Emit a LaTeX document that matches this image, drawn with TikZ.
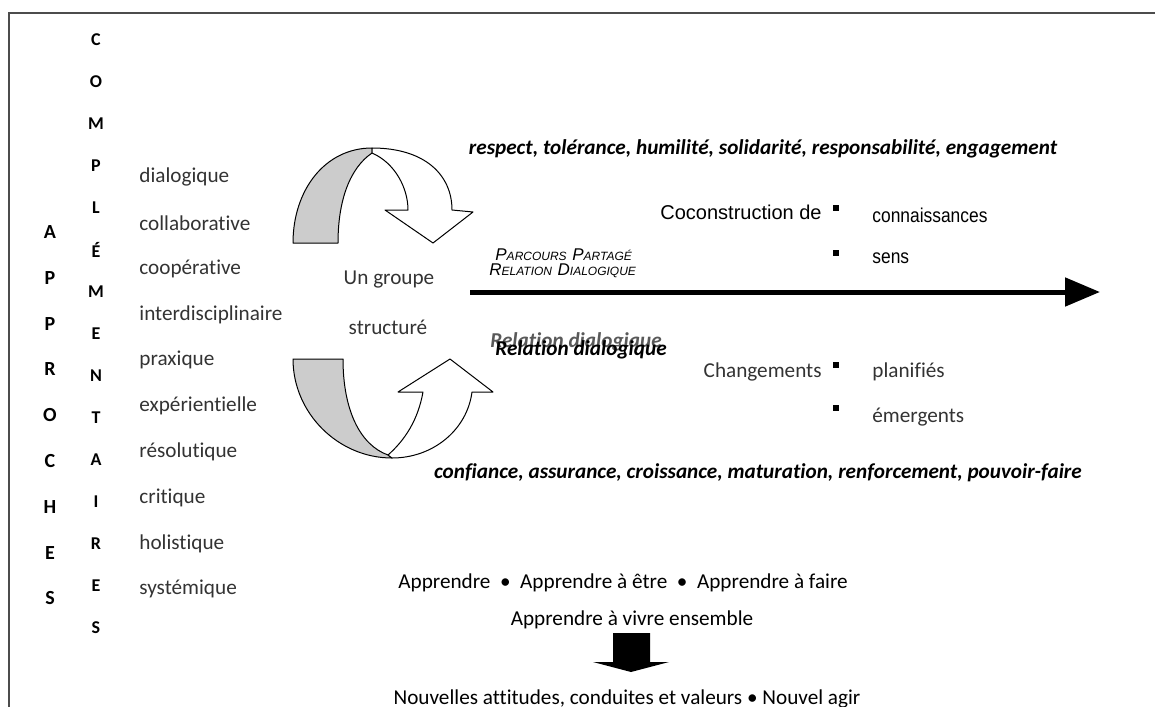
\documentclass[tikz,border=0pt]{standalone}
\usepackage{fontspec}
\setmainfont{Carlito}[RawFeature=-liga]
\newfontfamily\arialfont{Liberation Sans}
\newfontfamily\arialnarrow{Liberation Sans}[FakeStretch=0.87]
\usetikzlibrary{arrows.meta}
\newcommand{\petitecap}[2]{{\fontsize{8.5}{9}\selectfont #1}{\fontsize{6}{7}\selectfont #2}}

\tikzset{
  approche/.style={font=\fontsize{10}{11}\selectfont\bfseries},
  complement/.style={font=\fontsize{9}{10}\selectfont\bfseries},
  mot/.style={anchor=west, text=black!80},
  valeurs/.style={font=\fontsize{10.6}{12}\selectfont\bfseries\itshape},
  puce/.style={fill=black, minimum size=3pt, inner sep=0pt},
  ruban/.style={draw=black, line width=0.5pt, line join=round},
}

\begin{document}
\begin{tikzpicture}[x=0.5pt,y=-0.5pt,every node/.style={font=\fontsize{10.6}{12.7}\selectfont, inner sep=0pt}]
        \useasboundingbox (0,0) rectangle (1155,706);
        \clip (0,0) rectangle (1155,706);
        \draw[black!70,line width=1.3pt] (1160,13) -- (9,13) -- (9,710);
        % colonnes de gauche
        \foreach \l [count=\i from 0] in {A,P,P,R,O,C,H,E,S} {
                \node[approche] (ap\i) at (50,232+45.8*\i) {\l};
            }
        \foreach \l [count=\i from 0] in {C,O,M,P,L,É,M,E,N,T,A,I,R,E,S} {
                \node[complement] (co\i) at (96,40+42*\i) {\l};
            }
        \foreach \m [count=\i from 0] in {dialogique,collaborative,coopérative,interdisciplinaire,praxique,expérientielle,résolutique,critique,holistique,systémique} {
                \node[mot] (mot\i) at (139,177+45.8*\i) {\m};
            }
        % rubans
        \filldraw[ruban,fill=black!20] (293,243) .. controls (293,190) and (325,148) .. (372,148) -- (372,153)
            .. controls (350,168) and (338,200) .. (338,243) -- cycle;
        \filldraw[ruban,fill=white] (372,148) .. controls (425,148) and (452,175) .. (452,210) -- (473,212) -- (433,243)
            -- (385,210) -- (408,210) .. controls (408,188) and (395,163) .. (372,153) -- cycle;
        \filldraw[ruban,fill=black!20] (293,359) -- (343,359) .. controls (343,410) and (360,445) .. (388,455) -- (392,458)
            .. controls (338,458) and (293,413) .. (293,359) -- cycle;
        \filldraw[ruban,fill=white] (392,458) .. controls (433,458) and (467,430) .. (472,392) -- (493,392) -- (450,359)
            -- (398,392) -- (423,392) .. controls (418,420) and (405,440) .. (388,455) -- cycle;
        \node[text=black!80] (groupe) at (389,280) {Un groupe};
        \node[text=black!80] (structure) at (388,327) {structuré};
        % parcours
        \node[valeurs] (respect) at (763,149) {respect, tolérance, humilité, solidarité, responsabilité, engagement};
        \node[font=\arialfont\itshape,anchor=west] (parcours) at (495,255) {\petitecap{P}{ARCOURS} \petitecap{P}{ARTAGÉ}};
        \node[font=\arialfont\itshape,anchor=west] (relation) at (489,271) {\petitecap{R}{ELATION} \petitecap{D}{IALOGIQUE}};
        \coordinate (debut) at (470,292);
        \coordinate (fin) at (1100,292);
        \draw[line width=2.5pt,-{Triangle[length=17.5pt,width=14pt]}] (debut) -- (fin);
        \node[valeurs,text=black!65,anchor=west] (reldia1) at (490,342) {Relation dialogique};
        \node[valeurs,anchor=west] (reldia2) at (495,350) {Relation dialogique};
        \node[font=\arialfont,anchor=east] (cocons) at (822,212) {Coconstruction de};
        \node[puce] (p1) at (836,208) {};
        \node[puce] (p2) at (836,253) {};
        \node[font=\arialnarrow,anchor=west] (conn) at (872,215) {connaissances};
        \node[font=\arialnarrow,anchor=west] (sens) at (872,258) {sens};
        \node[text=black!80,anchor=east] (chang) at (822,372) {Changements};
        \node[puce] (p3) at (836,365) {};
        \node[puce] (p4) at (836,408) {};
        \node[text=black!80,anchor=west] (plan) at (872,372) {planifiés};
        \node[text=black!80,anchor=west] (emer) at (872,417) {émergents};
        \node[valeurs] (confiance) at (758,473) {confiance, assurance, croissance, maturation, renforcement, pouvoir-faire};
        % apprendre
        \node (apprendre) at (623,583) {Apprendre \ • \ Apprendre à être \ • \ Apprendre à faire};
        \node (vivre) at (632,620) {Apprendre à vivre ensemble};
        \fill (613,633) -- (650,633) -- (650,662) -- (669,662) -- (631,672) -- (593,662) -- (613,662) -- cycle;
        \node (nouvel) at (627,699) {Nouvelles attitudes, conduites et valeurs • Nouvel agir};
    \end{tikzpicture}
\end{document}
